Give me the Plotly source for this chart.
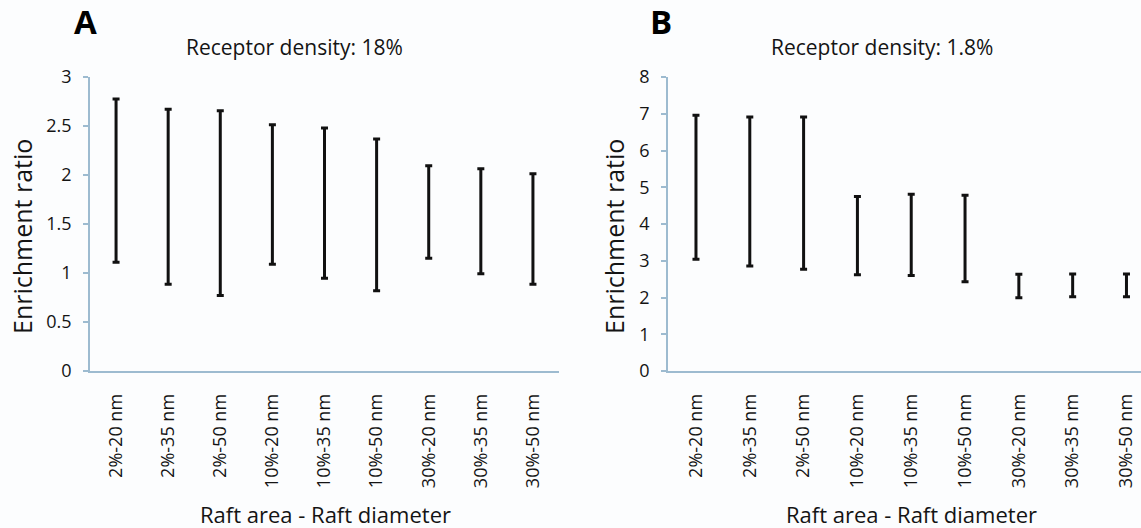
import plotly.graph_objects as go

categories = ["2%-20 nm", "2%-35 nm", "2%-50 nm", "10%-20 nm", "10%-35 nm",
              "10%-50 nm", "30%-20 nm", "30%-35 nm", "30%-50 nm"]

a_low = [1.11, 0.885, 0.77, 1.09, 0.946, 0.82, 1.15, 0.993, 0.885]
a_high = [2.776, 2.67, 2.656, 2.513, 2.48, 2.367, 2.095, 2.064, 2.013]

b_low = [3.04, 2.86, 2.77, 2.62, 2.6, 2.43, 1.99, 2.02, 2.02]
b_high = [6.96, 6.91, 6.91, 4.75, 4.81, 4.78, 2.63, 2.64, 2.64]

a_ticks = [0, 0.5, 1, 1.5, 2, 2.5, 3]
a_ticktext = ["0", "0.5", "1", "1.5", "2", "2.5", "3"]
b_ticks = [0, 1, 2, 3, 4, 5, 6, 7, 8]

FONT = "Open Sans"
TXT = "#141414"
AXC = "#9dbbd0"
W, H = 1141, 528


def px(x):
    return x / W


def py(y):
    return 1 - y / H


def ranges(lo, hi):
    mid = [(l + h) / 2 for l, h in zip(lo, hi)]
    half = [(h - l) / 2 for l, h in zip(lo, hi)]
    return mid, half


fig = go.Figure()
for lo, hi, xa, ya in [(a_low, a_high, "x", "y"), (b_low, b_high, "x2", "y2")]:
    mid, half = ranges(lo, hi)
    fig.add_trace(go.Scatter(
        x=list(range(len(categories))), y=mid, mode="markers",
        marker=dict(size=1, opacity=0),
        error_y=dict(type="data", array=half, symmetric=True,
                     color="#111111", thickness=3, width=3.5),
        xaxis=xa, yaxis=ya, showlegend=False, hoverinfo="skip"))

ydom = [py(371), py(77)]
xcommon = dict(showline=True, linecolor=AXC, linewidth=1.5, ticks="",
               showgrid=False, zeroline=False, tickangle=-90, automargin=False,
               tickmode="array", tickvals=list(range(len(categories))),
               ticktext=categories, ticklabelstandoff=14,
               tickfont=dict(family=FONT, size=18, color=TXT))
ycommon = dict(showline=True, linecolor=AXC, linewidth=1.5, ticks="outside",
               ticklen=5, tickcolor=AXC, tickwidth=1.5, showgrid=False,
               zeroline=False, domain=ydom, ticklabelstandoff=8, automargin=False,
               tickfont=dict(family=FONT, size=18, color=TXT))

fig.update_layout(
    template="none",
    width=W, height=H, margin=dict(l=0, r=0, t=0, b=0, pad=0), autosize=False,
    paper_bgcolor="#fcfdfe", plot_bgcolor="#fcfdfe",
    xaxis=dict(domain=[px(90), px(559)], range=[-0.5, 8.5], anchor="y", **xcommon),
    xaxis2=dict(domain=[px(668), 1.0], range=[-0.52, 8.27], anchor="y2", **xcommon),
    yaxis=dict(range=[0, 3], tickvals=a_ticks, ticktext=a_ticktext, anchor="x", **ycommon),
    yaxis2=dict(range=[0, 8], tickvals=b_ticks, anchor="x2", **ycommon),
)

annots = [
    dict(text="<b>A</b>", x=px(85), y=py(22), size=33, angle=0, ya="middle"),
    dict(text="<b>B</b>", x=px(661), y=py(22), size=33, angle=0, ya="middle"),
    dict(text="Receptor density: 18%", x=px(294), y=py(47), size=21, angle=0, ya="middle"),
    dict(text="Receptor density: 1.8%", x=px(882), y=py(47), size=21, angle=0, ya="middle"),
    dict(text="Enrichment ratio", x=px(22), y=py(237), size=25, angle=-90, ya="middle"),
    dict(text="Enrichment ratio", x=px(614), y=py(237), size=25, angle=-90, ya="middle"),
    dict(text="Raft area - Raft diameter", x=px(325), y=0, size=22, angle=0, ya="bottom"),
    dict(text="Raft area - Raft diameter", x=px(911), y=0, size=22, angle=0, ya="bottom"),
]
for a in annots:
    fig.add_annotation(text=a["text"], x=a["x"], y=a["y"], xref="paper", yref="paper",
                       showarrow=False, textangle=a["angle"], xanchor="center",
                       yanchor=a["ya"], yshift=-3 if a["ya"] == "bottom" else 0,
                       font=dict(family=FONT, size=a["size"],
                                 color="#000000" if "<b>" in a["text"] else TXT))

fig.write_html("out.html", config={"responsive": False})
